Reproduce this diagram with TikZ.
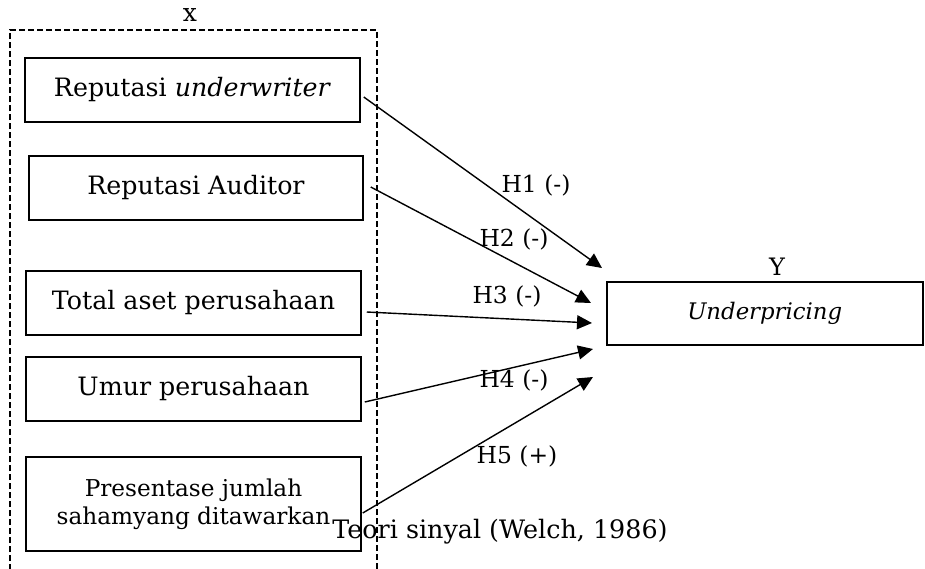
\documentclass[tikz,border=0pt]{standalone}
\usepackage{fontspec}
\setmainfont{DejaVu Serif}
\usetikzlibrary{arrows.meta}
\begin{document}
\begin{tikzpicture}[x=1pt,y=-1pt,
  vbox/.style={draw,line width=1.5pt,inner sep=0pt,font=\fontsize{25.3}{28}\selectfont,align=center},
  lbl/.style={font=\fontsize{23.4}{28}\selectfont,inner sep=0pt},
  arr/.style={line width=1.4pt,-{Triangle[length=15pt,width=14pt]}},
  grp/.style={line width=1.5pt,dash pattern=on 6pt off 3pt}]
\useasboundingbox (0,0) rectangle (925,568);
\draw[grp] (10,570) -- (10,30) -- (377,30) -- (377,570);
\node[lbl,font=\fontsize{25}{28}\selectfont] (xl) at (190,15) {x};
\node[vbox,minimum width=335pt,minimum height=64pt] (b1) at (192.5,90) {Reputasi \textit{underwriter}};
\node[vbox,minimum width=334pt,minimum height=64pt] (b2) at (196,188) {Reputasi Auditor};
\node[vbox,minimum width=335pt,minimum height=64pt] (b3) at (193.5,303) {Total aset perusahaan};
\node[vbox,minimum width=335pt,minimum height=64pt] (b4) at (193.5,389) {Umur perusahaan};
\node[vbox,minimum width=335pt,minimum height=94pt,font=\fontsize{23.2}{27.7}\selectfont] (b5) at (193.5,504) {Presentase jumlah\\sahamyang ditawarkan};
\node[vbox,minimum width=316pt,minimum height=63pt,anchor=west,font=\fontsize{22.8}{28}\selectfont] (yb) at (606,313.5) {\textit{Underpricing}};
\node[lbl,font=\fontsize{24}{28}\selectfont] (yl) at (777,267) {Y};
\coordinate (t1) at (602,268);
\coordinate (t2) at (591,303);
\coordinate (t3) at (592,323);
\coordinate (t4) at (593,349);
\coordinate (t5) at (593,377);
\draw[arr] ([shift={(3,7)}]b1.east) -- (t1);
\draw[arr] ([shift={(7,-1)}]b2.east) -- (t2);
\draw[arr] ([shift={(5,9)}]b3.east) -- (t3);
\draw[arr] ([shift={(3,13)}]b4.east) -- (t4);
\draw[arr] ([shift={(1,9)}]b5.east) -- (t5);
\node[lbl] (h1) at (536,185) {H1 (-)};
\node[lbl] (h2) at (514,239) {H2 (-)};
\node[lbl] (h3) at (507,296) {H3 (-)};
\node[lbl] (h4) at (514,380) {H4 (-)};
\node[lbl] (h5) at (517,456) {H5 (+)};
\node[lbl,font=\fontsize{25.4}{28}\selectfont] (teori) at (500,532) {Teori sinyal (Welch, 1986)};
\end{tikzpicture}
\end{document}
